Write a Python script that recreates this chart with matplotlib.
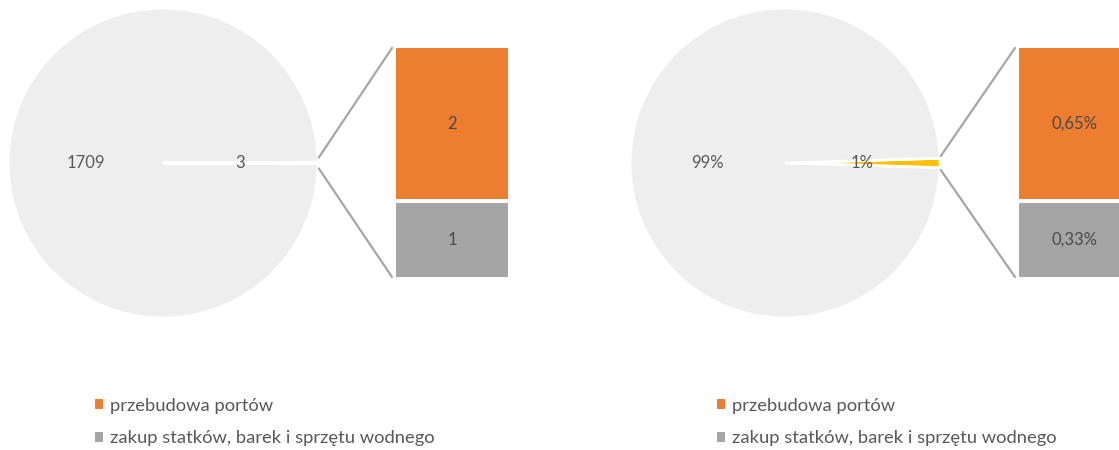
import matplotlib
matplotlib.use("Agg")
import matplotlib.pyplot as plt
from matplotlib.patches import ConnectionPatch, Patch

# ---- data ----
categories = ["przebudowa portów", "zakup statków, barek i sprzętu wodnego"]
counts_main = 1709                # remaining projects (large slice)
counts_split = [2, 1]             # breakdown of the small slice
share_split = [0.65, 0.33]        # percentage breakdown of the small slice
share_main = 100 - sum(share_split)

# ---- styling ----
C_MAIN = "#EEEEEE"
C_OTHER = "#FFC000"
C_BARS = ["#ED7D31", "#A5A5A5"]
C_LINE = "#A6A6A6"
C_TXT = "#595959"
C_BARTXT = "#4A4A4A"
FONT = "Lato"

W, H = 1119, 450
fig = plt.figure(figsize=(W / 100, H / 100), dpi=100)
fig.patch.set_facecolor("white")


def px_axes(x0, y0, x1, y1):
    """Axes from pixel box given with y measured from the top."""
    return fig.add_axes([x0 / W, (H - y1) / H, (x1 - x0) / W, (y1 - y0) / H])


def pie_of_bar(cx, cy, r, main_val, split_vals, fmt, bar_fmt, bar_x0, line_dy):
    other = sum(split_vals)
    pie_vals = [other, main_val]
    ang = other / (other + main_val) * 360
    ax = px_axes(cx - r, cy - r, cx + r, cy + r)
    total = other + main_val
    ax.pie(
        pie_vals,
        colors=[C_OTHER, C_MAIN],
        startangle=-ang / 2,
        counterclock=True,
        wedgeprops=dict(edgecolor="white", linewidth=2.0),
        autopct=lambda p: fmt(p, total),
        pctdistance=0.5,
        textprops=dict(color=C_TXT, fontsize=12, family=FONT),
    )
    ax.set_xlim(-1, 1)
    ax.set_ylim(-1, 1)
    ax.set_aspect("equal")

    # stacked bar for the broken-out slice
    bx = px_axes(bar_x0 - 2, 46, bar_x0 + 114, 279)
    bottom = 0
    for v, c in zip(reversed(split_vals), reversed(C_BARS)):
        bx.bar(0, v, bottom=bottom, width=1, color=c,
               edgecolor="white", linewidth=2.9)
        bx.text(0, bottom + v / 2, bar_fmt(v), ha="center", va="center",
                color=C_BARTXT, fontsize=12, family=FONT)
        bottom += v
    bx.set_xlim(-0.5, 0.5)
    bx.set_ylim(0, bottom)
    bx.axis("off")

    # connector lines from the slice to the bar
    for sgn, yb in ((1, 1.0), (-1, 0.0)):
        con = ConnectionPatch(
            xyA=(1.005, sgn * line_dy), coordsA=ax.transData,
            xyB=(-2 / 116, yb - sgn * 2 / 233), coordsB=bx.transAxes,
            color=C_LINE, linewidth=1.6,
        )
        fig.add_artist(con)
    return ax, bx


pie_of_bar(163, 163, 155, counts_main, counts_split,
           lambda p, t: f"{round(p * t / 100)}",
           lambda v: f"{v:g}", 396, 0.035)
pie_of_bar(785, 163, 155, share_main, share_split,
           lambda p, t: f"{p:.0f}%",
           lambda v: f"{v:.2f}%".replace(".", ","), 1019, 0.045)

# legends
handles = [Patch(facecolor=c, edgecolor="none") for c in C_BARS]
for x0 in (82, 704):
    fig.legend(handles, categories, loc="upper left",
               bbox_to_anchor=(x0 / W, (H - 385) / H),
               frameon=False, handlelength=0.45, handleheight=0.45,
               handletextpad=0.35, labelspacing=0.9, borderaxespad=0.3,
               prop=dict(family=FONT, size=13.2), labelcolor=C_TXT)

fig.savefig("out.png", dpi=100, facecolor="white")
